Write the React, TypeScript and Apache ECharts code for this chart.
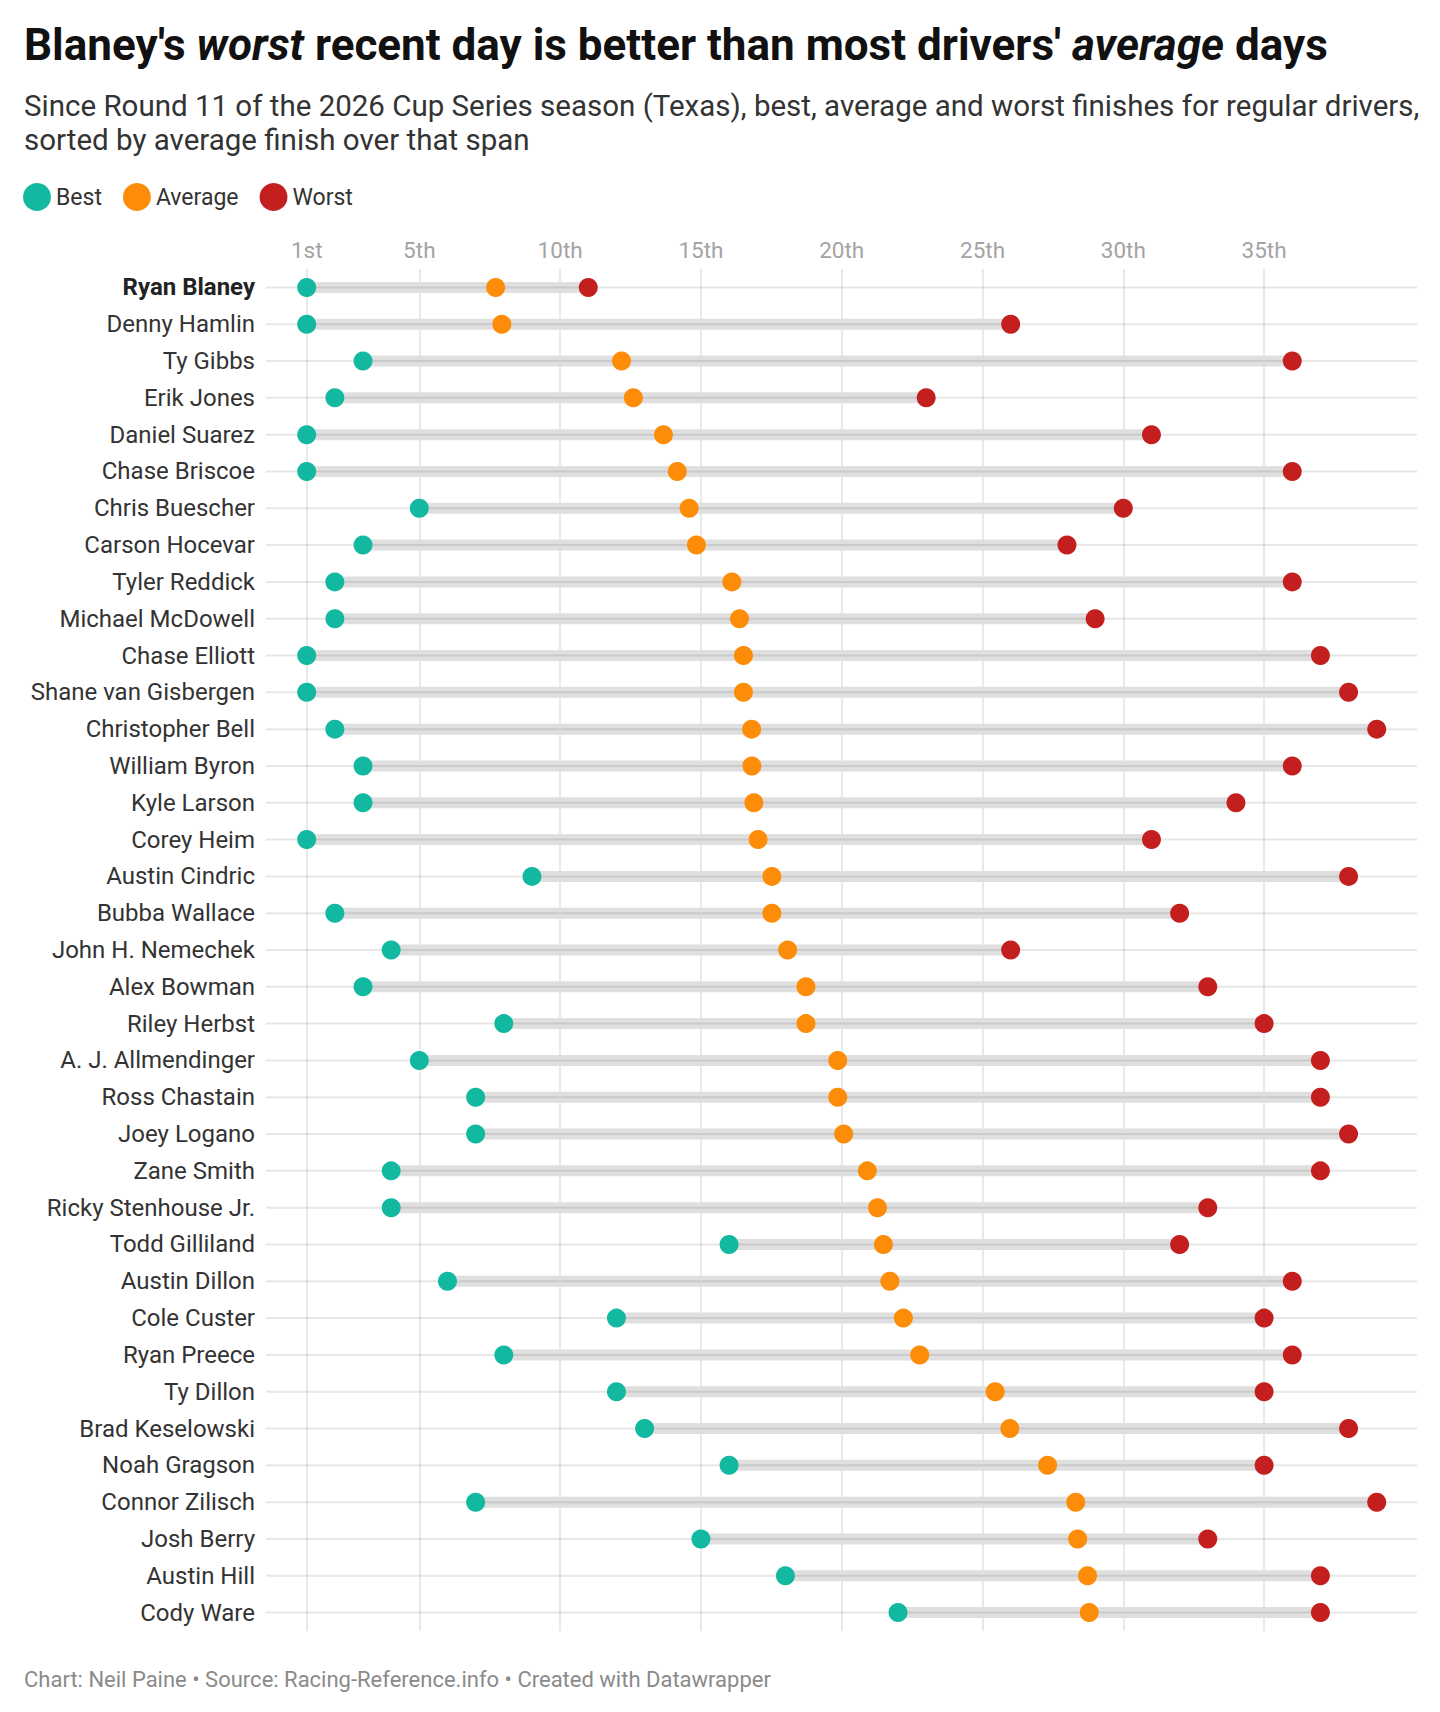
import React, { useEffect, useRef } from "react";
import * as echarts from "echarts";

const drivers = [
  "Ryan Blaney", "Denny Hamlin", "Ty Gibbs", "Erik Jones", "Daniel Suarez", "Chase Briscoe",
  "Chris Buescher", "Carson Hocevar", "Tyler Reddick", "Michael McDowell", "Chase Elliott",
  "Shane van Gisbergen", "Christopher Bell", "William Byron", "Kyle Larson", "Corey Heim",
  "Austin Cindric", "Bubba Wallace", "John H. Nemechek", "Alex Bowman", "Riley Herbst",
  "A. J. Allmendinger", "Ross Chastain", "Joey Logano", "Zane Smith", "Ricky Stenhouse Jr.",
  "Todd Gilliland", "Austin Dillon", "Cole Custer", "Ryan Preece", "Ty Dillon",
  "Brad Keselowski", "Noah Gragson", "Connor Zilisch", "Josh Berry", "Austin Hill", "Cody Ware",
];

const best = [
  1, 1, 3, 2, 1, 1, 5, 3, 2, 2, 1, 1, 2, 3, 3, 1, 9, 2, 4, 3, 8, 5, 7, 7, 4, 4, 16, 6, 12, 8, 12,
  13, 16, 7, 15, 18, 22,
];

const average = [
  7.71, 7.93, 12.18, 12.6, 13.67, 14.16, 14.58, 14.84, 16.1, 16.37, 16.51, 16.51, 16.8, 16.81,
  16.88, 17.03, 17.52, 17.52, 18.08, 18.73, 18.73, 19.86, 19.86, 20.07, 20.91, 21.27, 21.48,
  21.71, 22.19, 22.77, 25.45, 25.97, 27.31, 28.31, 28.38, 28.73, 28.79,
];

const worst = [
  11, 26, 36, 23, 31, 36, 30, 28, 36, 29, 37, 38, 39, 36, 34, 31, 38, 32, 26, 33, 35, 37, 37, 38,
  37, 33, 32, 36, 35, 36, 35, 38, 35, 39, 33, 37, 37,
];

const tickValues = [1, 5, 10, 15, 20, 25, 30, 35];

const COLORS = { best: "#12b9a0", average: "#fd8c08", worst: "#c41f1f" };
const FONT = "Roboto";

export default function App() {
  const ref = useRef<HTMLDivElement>(null);

  useEffect(() => {
    if (!ref.current) return;
    const chart = echarts.init(ref.current, null, { renderer: "svg" });

    const rangeData = drivers.map((_, i) => [i, best[i], worst[i]]);

    chart.setOption({
      animation: false,
      textStyle: { fontFamily: FONT },
      title: [
        {
          left: 19,
          top: 18,
          text:
            "{b|Blaney's }{bi|worst}{b| recent day is better than most drivers' }{bi|average}{b| days}",
          textStyle: {
            rich: {
              b: { fontFamily: FONT, fontSize: 44, fontWeight: "bold", color: "#111" },
              bi: { fontFamily: FONT, fontSize: 44, fontWeight: "bold", fontStyle: "italic", color: "#111" },
            },
          },
        },
        {
          left: 19,
          top: 84,
          text:
            "Since Round 11 of the 2026 Cup Series season (Texas), best, average and worst finishes for regular drivers,\nsorted by average finish over that span",
          textStyle: { fontFamily: FONT, fontSize: 29.5, fontWeight: "normal", color: "#333", lineHeight: 34 },
        },
        {
          left: 19,
          top: 1663,
          text: "Chart: Neil Paine • Source: Racing-Reference.info • Created with Datawrapper",
          textStyle: { fontFamily: FONT, fontSize: 22, fontWeight: "normal", color: "#8a8a8a" },
        },
      ],
      legend: {
        left: 18,
        top: 178,
        icon: "circle",
        itemWidth: 28,
        itemHeight: 28,
        itemGap: 21,
        textStyle: { fontFamily: FONT, fontSize: 23, color: "#333", padding: [0, 0, 0, 0] },
        data: ["Best", "Average", "Worst"],
      },
      grid: { left: 266, right: 23, top: 269, height: 1362, containLabel: false },
      xAxis: {
        type: "value",
        position: "top",
        min: -0.445,
        max: 40.43,
        axisLine: { show: false },
        axisTick: { show: false, customValues: tickValues },
        axisLabel: {
          customValues: tickValues,
          margin: 8,
          fontFamily: FONT,
          fontSize: 22.5,
          color: "#a3a3a3",
          formatter: (v: number) => (v === 1 ? "1st" : `${v}th`),
        },
        splitLine: { show: true, lineStyle: { color: "#e2e2e2", width: 1.5 } },
      },
      yAxis: {
        type: "category",
        inverse: true,
        data: drivers,
        axisLine: { show: false },
        axisTick: { show: false },
        splitLine: { show: false },
        axisLabel: {
          margin: 11,
          fontFamily: FONT,
          fontSize: 24,
          color: "#333",
          formatter: (v: string) => (v === "Ryan Blaney" ? `{b|${v}}` : v),
          rich: { b: { fontFamily: FONT, fontSize: 24, fontWeight: "bold", color: "#222" } },
        },
      },
      series: [
        {
          type: "custom",
          name: "range",
          data: rangeData,
          encode: { x: [1, 2], y: 0 },
          z: 1,
          silent: true,
          renderItem: (params: any, api: any) => {
            const idx = api.value(0);
            const p1 = api.coord([api.value(1), idx]);
            const p2 = api.coord([api.value(2), idx]);
            const cs = params.coordSys;
            const y = p1[1];
            return {
              type: "group",
              children: [
                {
                  type: "rect",
                  shape: { x: p1[0], y: y - 5.5, width: p2[0] - p1[0], height: 11 },
                  style: { fill: "#dfdfdf" },
                },
                {
                  type: "line",
                  shape: { x1: cs.x, y1: y, x2: cs.x + cs.width, y2: y },
                  style: { stroke: "rgba(0,0,0,0.095)", lineWidth: 2 },
                },
              ],
            };
          },
        },
        {
          type: "scatter",
          name: "Best",
          data: best.map((v, i) => [v, i]),
          symbolSize: 19,
          itemStyle: { color: COLORS.best, opacity: 1 },
          z: 3,
        },
        {
          type: "scatter",
          name: "Average",
          data: average.map((v, i) => [v, i]),
          symbolSize: 19,
          itemStyle: { color: COLORS.average, opacity: 1 },
          z: 3,
        },
        {
          type: "scatter",
          name: "Worst",
          data: worst.map((v, i) => [v, i]),
          symbolSize: 19,
          itemStyle: { color: COLORS.worst, opacity: 1 },
          z: 3,
        },
      ],
    });

    return () => chart.dispose();
  }, []);

  return <div ref={ref} style={{ width: 1440, height: 1712, margin: -8 }} />;
}
